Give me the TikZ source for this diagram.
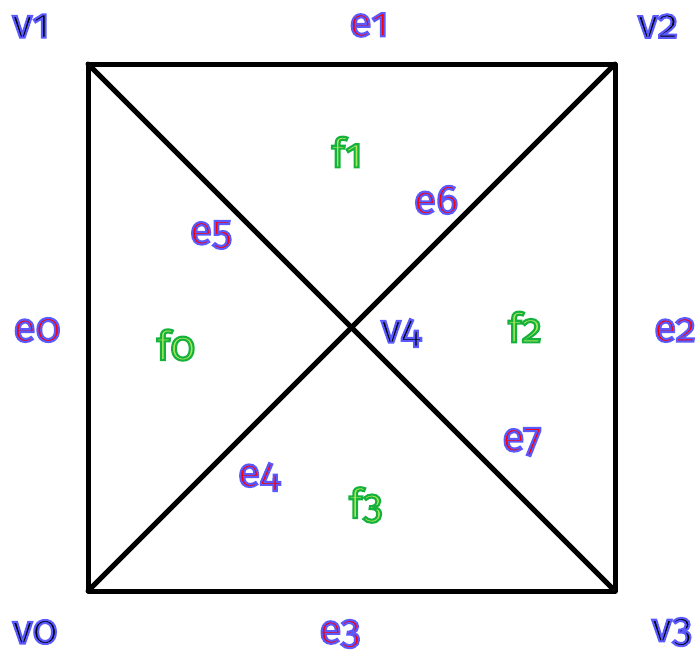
\documentclass[tikz,border=0pt]{standalone}
\usepackage{fontspec}
\setmainfont{Fira Sans}[Numbers=OldStyle]
\definecolor{ered}{RGB}{255,0,0}
\definecolor{ffill}{RGB}{170,230,90}
\newcommand{\vtext}[1]{{\color{black}\special{pdf:literal direct 2 Tr 2.1 w 0.35 0.35 1 RG}#1\special{pdf:literal direct 0 Tr}}}
\newcommand{\etext}[1]{{\color{ered}\special{pdf:literal direct 2 Tr 2.1 w 0.35 0.35 1 RG}#1\special{pdf:literal direct 0 Tr}}}
\newcommand{\ftext}[1]{{\color{ffill}\special{pdf:literal direct 2 Tr 2.1 w 0.08 0.7 0.24 RG}#1\special{pdf:literal direct 0 Tr}}}
\begin{document}
\begin{tikzpicture}[x=1pt,y=-1pt,
  edgeline/.style={line width=5pt,line cap=round,line join=round},
  vlab/.style={font=\fontsize{41}{41}\selectfont,inner sep=0pt},
]
\useasboundingbox (0,0) rectangle (697,654);
\coordinate (c0) at (88,591);
\coordinate (c1) at (88,64);
\coordinate (c2) at (615,64);
\coordinate (c3) at (615,591);
\coordinate (c4) at (351,327);
\draw[edgeline] (c0) -- (c1) -- (c2) -- (c3) -- cycle;
\draw[edgeline] (c1) -- (c3);
\draw[edgeline] (c2) -- (c0);
% vertices
\node[vlab] (v1) at (31,26) {\vtext{v1}};
\node[vlab] (v2) at (658,26) {\vtext{v2}};
\node[vlab] (v0) at (35,632) {\vtext{v0}};
\node[vlab] (v3) at (672,632) {\vtext{v3}};
\node[vlab] (v4) at (401,333) {\vtext{v4}};
% edges
\node[vlab] (e0) at (37,330) {\etext{e0}};
\node[vlab] (e1) at (369,25) {\etext{e1}};
\node[vlab] (e2) at (675,330) {\etext{e2}};
\node[vlab] (e3) at (340,634) {\etext{e3}};
\node[vlab] (e4) at (259,477) {\etext{e4}};
\node[vlab] (e5) at (211,235) {\etext{e5}};
\node[vlab] (e6) at (436,200) {\etext{e6}};
\node[vlab] (e7) at (522,442) {\etext{e7}};
% faces
\node[vlab] (f0) at (176,345) {\ftext{f0}};
\node[vlab] (f1) at (347,152) {\ftext{f1}};
\node[vlab] (f2) at (525,327) {\ftext{f2}};
\node[vlab] (f3) at (366,505) {\ftext{f3}};
\end{tikzpicture}
\end{document}
